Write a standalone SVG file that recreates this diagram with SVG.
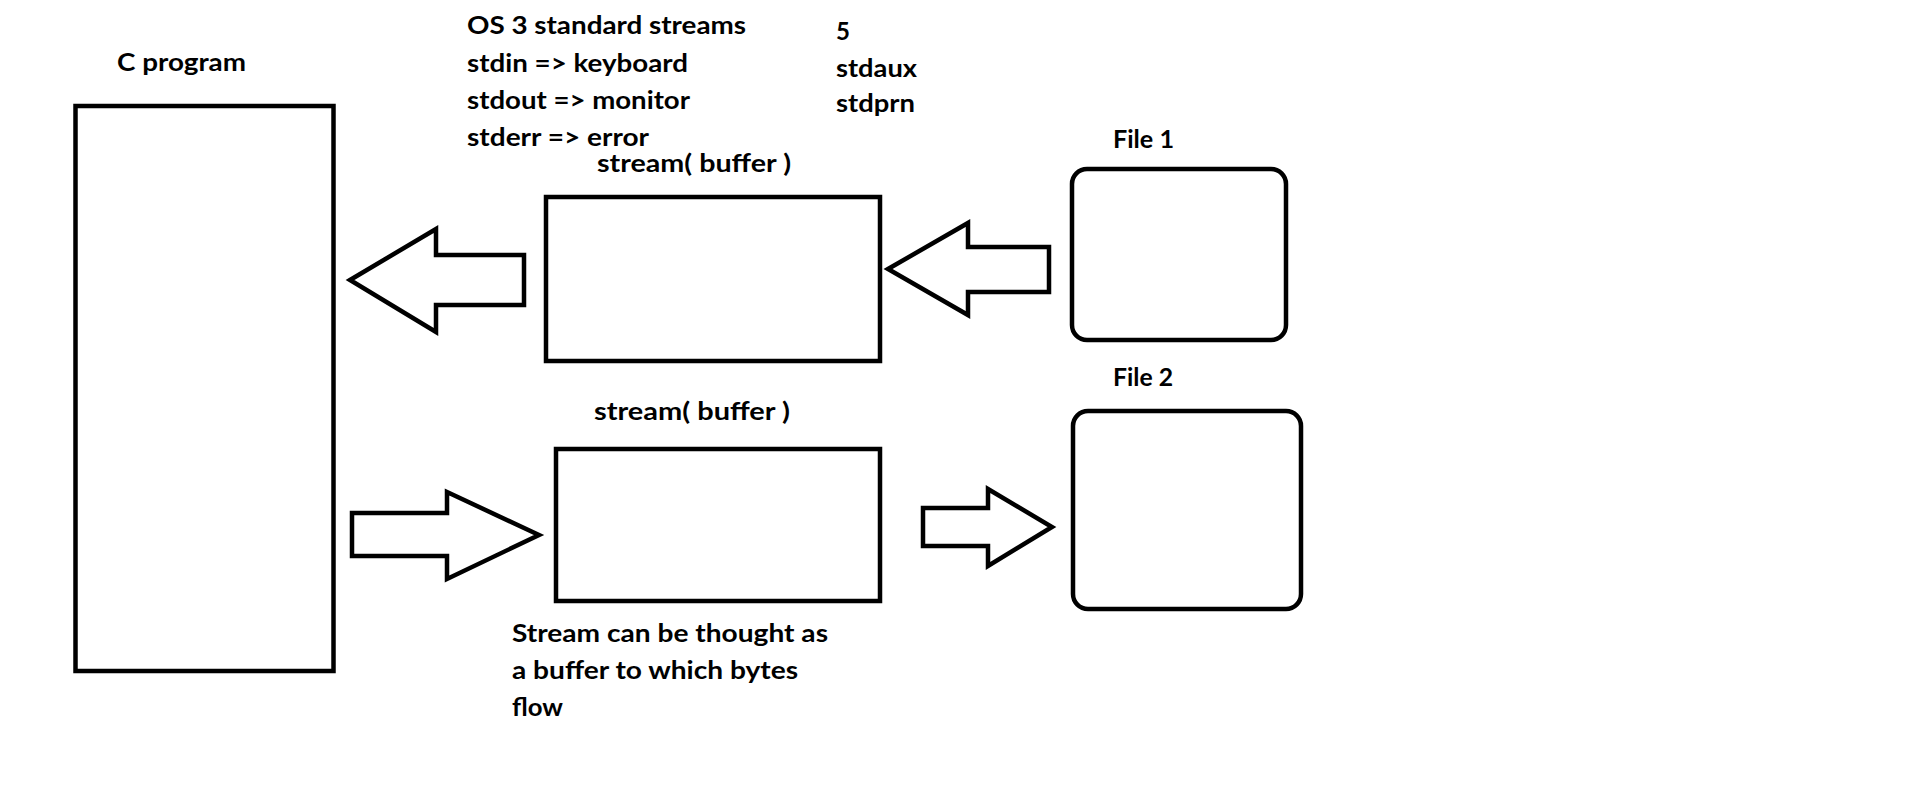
<svg xmlns="http://www.w3.org/2000/svg" width="1914" height="809" viewBox="0 0 1914 809">
<style>
  .shape { fill: #ffffff; stroke: #000000; stroke-width: 4.5; stroke-linejoin: miter; }
  .arrow { fill: #ffffff; stroke: #000000; stroke-width: 4.5; stroke-linejoin: miter; stroke-miterlimit: 10; }
  .lbl { font-family: Lato, "Open Sans", "Liberation Sans", sans-serif; font-weight: bold; font-size: 24px; fill: #000000; }
</style>
<rect width="1914" height="809" fill="#ffffff"/>

<g id="notes">
  <text class="lbl" x="467" y="34" textLength="279" lengthAdjust="spacingAndGlyphs">OS 3 standard streams</text>
  <text class="lbl" x="467" y="71.5" textLength="221" lengthAdjust="spacingAndGlyphs">stdin =&gt; keyboard</text>
  <text class="lbl" x="467" y="108.5" textLength="223" lengthAdjust="spacingAndGlyphs">stdout =&gt; monitor</text>
  <text class="lbl" x="467" y="145.5" textLength="182" lengthAdjust="spacingAndGlyphs">stderr =&gt; error</text>
  <text class="lbl" x="836" y="40">5</text>
  <text class="lbl" x="836" y="77" textLength="81" lengthAdjust="spacingAndGlyphs">stdaux</text>
  <text class="lbl" x="836" y="112" textLength="79" lengthAdjust="spacingAndGlyphs">stdprn</text>
  <text class="lbl" x="512" y="642" textLength="316" lengthAdjust="spacingAndGlyphs">Stream can be thought as</text>
  <text class="lbl" x="512" y="679" textLength="286" lengthAdjust="spacingAndGlyphs">a buffer to which bytes</text>
  <text class="lbl" x="512" y="716" textLength="51" lengthAdjust="spacingAndGlyphs">flow</text>
</g>

<g id="c-program">
  <text class="lbl" x="117" y="71" textLength="129" lengthAdjust="spacingAndGlyphs">C program</text>
  <rect class="shape" x="75.5" y="106" width="258" height="565"/>
</g>

<g id="stream-in">
  <text class="lbl" x="597" y="172" textLength="194" lengthAdjust="spacingAndGlyphs">stream( buffer )</text>
  <rect class="shape" x="546" y="197" width="334" height="164"/>
</g>

<g id="stream-out">
  <text class="lbl" x="594" y="420" textLength="196" lengthAdjust="spacingAndGlyphs">stream( buffer )</text>
  <rect class="shape" x="556" y="449" width="324" height="152"/>
</g>

<g id="file1">
  <text class="lbl" x="1113" y="148" textLength="61" lengthAdjust="spacingAndGlyphs">File 1</text>
  <rect class="shape" x="1072" y="169" width="214" height="171" rx="15" ry="15"/>
</g>

<g id="file2">
  <text class="lbl" x="1113" y="386" textLength="60" lengthAdjust="spacingAndGlyphs">File 2</text>
  <rect class="shape" x="1073" y="411" width="228" height="198" rx="15" ry="15"/>
</g>

<g id="connectors">
  <polygon class="arrow" points="350,280 436,229 436,255 524,255 524,305 436,305 436,332"/>
  <polygon class="arrow" points="888,269 968,223 968,247 1049,247 1049,292 968,292 968,315"/>
  <polygon class="arrow" points="352,513 447,513 447,492 539,535 447,579 447,556 352,556"/>
  <polygon class="arrow" points="923,508 988,508 988,489 1052,527 988,566 988,546 923,546"/>
</g>
</svg>
